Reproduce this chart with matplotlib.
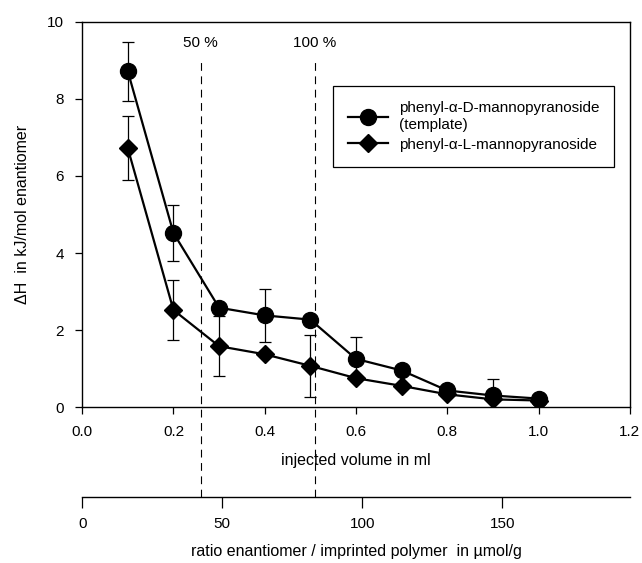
import numpy as np
import matplotlib.pyplot as plt

plt.rcParams['font.family'] = ['Liberation Sans', 'DejaVu Sans']

# data
volume = [0.1, 0.2, 0.3, 0.4, 0.5, 0.6, 0.7, 0.8, 0.9, 1.0]
dh_D = [8.72, 4.52, 2.58, 2.38, 2.27, 1.25, 0.95, 0.43, 0.30, 0.22]
err_D = [0.76, 0.72, 0.0, 0.69, 0.0, 0.58, 0.0, 0.0, 0.42, 0.0]
dh_L = [6.72, 2.52, 1.58, 1.37, 1.07, 0.75, 0.55, 0.33, 0.20, 0.17]
err_L = [0.83, 0.79, 0.78, 0.0, 0.80, 0.0, 0.0, 0.0, 0.0, 0.0]
label_D = "phenyl-\u03b1-D-mannopyranoside\n(template)"
label_L = "phenyl-\u03b1-L-mannopyranoside"

# 50 % / 100 % marks (ml)
mark_x = [0.26, 0.51]
mark_txt = ["50 %", "100 %"]

ml_to_umol = 163.0

fig = plt.figure(figsize=(6.42, 5.63), dpi=100)
ax = fig.add_axes([0.128, 0.277, 0.853, 0.684])

ax.errorbar(volume, dh_D, yerr=err_D, fmt='none', ecolor='k', elinewidth=0.9,
            capsize=4, capthick=0.9, zorder=1)
ax.errorbar(volume, dh_L, yerr=err_L, fmt='none', ecolor='k', elinewidth=0.9,
            capsize=4, capthick=0.9, zorder=1)
ax.plot(volume, dh_D, color='k', lw=1.6, marker='o', ms=11.5, label=label_D, zorder=3)
ax.plot(volume, dh_L, color='k', lw=1.6, marker='D', ms=9.5, label=label_L, zorder=2)

ax.set_xlim(0, 1.2)
ax.set_ylim(0, 10)
ax.set_xticks(np.arange(0, 1.21, 0.2))
ax.set_xticklabels(["%.1f" % v for v in np.arange(0, 1.21, 0.2)])
ax.set_yticks([0, 2, 4, 6, 8, 10])
ax.tick_params(direction='out', length=5, width=0.9, labelsize=11, pad=8)
for s in ax.spines.values():
    s.set_linewidth(1.0)

# dashed marks running from inside the plot down to the second axis
for x, t in zip(mark_x, mark_txt):
    ax.plot([x, x], [-2.34, 9.0], color='k', lw=0.8, ls=(0, (7, 5)),
            clip_on=False, zorder=0)
    ax.text(x, 9.45, t, ha='center', va='center', fontsize=11)

ax.set_xlabel("injected volume in ml", fontsize=11.5, labelpad=10)
ax.set_ylabel("\u0394H  in kJ/mol enantiomer", fontsize=11.5, labelpad=12)

leg = ax.legend(loc='upper right', bbox_to_anchor=(0.986, 0.853), fancybox=False,
                edgecolor='k', framealpha=1, fontsize=11, handlelength=2.6,
                borderpad=1.0, labelspacing=0.4, handletextpad=0.7)
leg.get_frame().set_linewidth(0.9)

# second x axis (ratio enantiomer / polymer)
sec = ax.secondary_xaxis(-0.234, functions=(lambda v: v * ml_to_umol,
                                            lambda v: v / ml_to_umol))
sec.set_xticks([0, 50, 100, 150])
sec.tick_params(direction='out', length=8, width=0.9, labelsize=11, pad=6)
sec.spines['bottom'].set_linewidth(1.0)
sec.set_xlabel("ratio enantiomer / imprinted polymer  in \u00b5mol/g", fontsize=11.5,
               labelpad=10)

fig.savefig("out.png", dpi=100)
